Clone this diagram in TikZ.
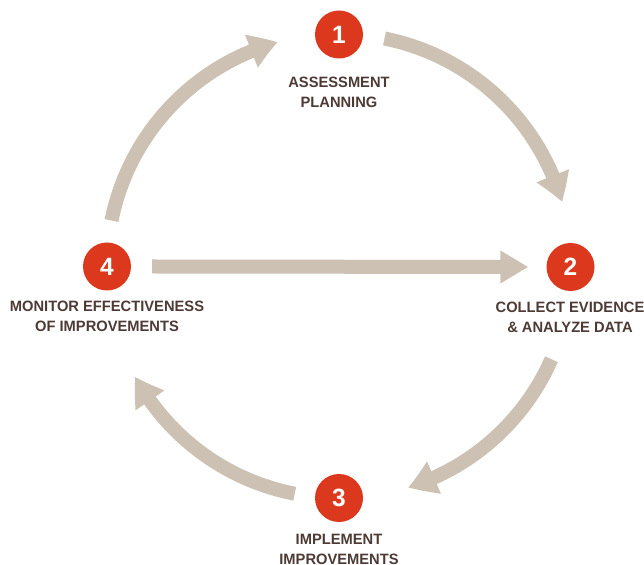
\documentclass[tikz,border=0pt]{standalone}
\usepackage{fontspec}
\setmainfont{Liberation Sans}[FakeStretch=0.98]
\usetikzlibrary{arrows.meta,bending}
\definecolor{flowc}{HTML}{CCC1B2}
\definecolor{stepred}{HTML}{DC381E}
\definecolor{labc}{HTML}{4D3A34}
\tikzset{
  flow/.style={draw=flowc, line width=14pt, -{Triangle[length=28pt,width=33pt,bend]}},
  flowstraight/.style={draw=flowc, line width=14pt, -{Triangle[length=28pt,width=31pt]}},
  num/.style={circle, fill=stepred, minimum size=48pt, inner sep=0pt, text=white,
    font=\fontsize{25}{25}\selectfont\bfseries},
  lab/.style={align=center, inner sep=0pt, anchor=north, text=labc,
    font=\fontsize{15}{20}\selectfont\bfseries}
}
\begin{document}
\begin{tikzpicture}[x=1pt,y=1pt]
\useasboundingbox (0,0) rectangle (644,564);
\coordinate (O) at (339,298);
\node[num] (c1) at (339,529.5) {1};
\node[num] (c2) at (570.5,297) {2};
\node[num] (c3) at (339,66) {3};
\node[num] (c4) at (107,297.5) {4};
\node[lab] (l1) at (339,487) {ASSESSMENT\\PLANNING};
\node[lab] (l2) at (570,262) {COLLECT EVIDENCE\\\& ANALYZE DATA};
\node[lab] (l3) at (339,30) {IMPLEMENT\\IMPROVEMENTS};
\node[lab] (l4) at (107,263) {MONITOR EFFECTIVENESS\\OF IMPROVEMENTS};
\draw[flow] ([shift={(78.7:232)}]O) arc[start angle=78.7, end angle=16, radius=232];
\draw[flow] ([shift={(-23.7:232)}]O) arc[start angle=-23.7, end angle=-72.7, radius=232];
\draw[flow] ([shift={(-101:232)}]O) arc[start angle=-101, end angle=-151.5, radius=232];
\draw[flow] ([shift={(168.7:232)}]O) arc[start angle=168.7, end angle=105.3, radius=232];
\draw[flowstraight] ([xshift=21pt]c4.east) -- ([xshift=-18pt]c2.west);
\end{tikzpicture}
\end{document}
